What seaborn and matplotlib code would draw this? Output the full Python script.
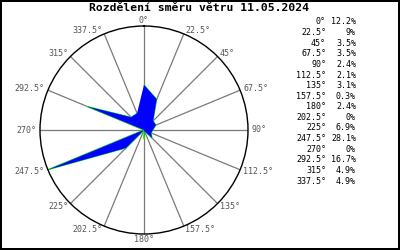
import numpy as np
import pandas as pd
import matplotlib
matplotlib.use("Agg")
import matplotlib.pyplot as plt
import seaborn as sns

directions = [0, 22.5, 45, 67.5, 90, 112.5, 135, 157.5, 180, 202.5, 225, 247.5, 270, 292.5, 315, 337.5]
dir_labels = ["0°", "22.5°", "45°", "67.5°", "90°", "112.5°", "135°", "157.5°",
              "180°", "202.5°", "225°", "247.5°", "270°", "292.5°", "315°", "337.5°"]
values = [12.2, 9, 3.5, 3.5, 2.4, 2.1, 3.1, 0.3, 2.4, 0, 6.9, 28.1, 0, 16.7, 4.9, 4.9]
title = "Rozdělení směru větru 11.05.2024"

sns.set_theme(style="white")
plt.rcParams['font.family'] = ['DejaVu Sans Mono', 'DejaVu Sans']

fig = plt.figure(figsize=(4, 2.5), dpi=100)
fig.patch.set_facecolor("white")
fig.patch.set_edgecolor("black")
fig.patch.set_linewidth(1.5)

ax = fig.add_axes([0.10, 0.064, 0.52, 0.832], projection="polar")
ax.set_theta_zero_location("N")
ax.set_theta_direction(-1)
rmax = max(values)
ax.set_ylim(0, rmax)
ax.set_yticks([])
ax.set_xticks(np.radians(directions))
ax.set_xticklabels([])
ax.xaxis.grid(True, color="#7a7a7a", linewidth=0.9)
ax.yaxis.grid(False)
ax.spines["polar"].set_color("black")
ax.spines["polar"].set_linewidth(1.0)
ax.set_facecolor("white")

df = pd.DataFrame({"theta": np.radians(directions + directions[:1]),
                   "value": values + values[:1]})
sns.lineplot(data=df, x="theta", y="value", sort=False, ax=ax,
             color="#00ff00", linewidth=0.7, zorder=2)
ax.fill(df["theta"], df["value"], color="#0000ff", linewidth=0, zorder=3)
ax.set_xlabel("")
ax.set_ylabel("")

for d, lab in zip(directions, dir_labels):
    t = np.radians(d)
    s, c = np.sin(t), np.cos(t)
    ha = "center" if abs(s) < 0.01 else ("left" if s > 0 else "right")
    if abs(s) < 0.01:
        va = "bottom" if c > 0 else "top"
        off = (0, c * 0.8)
    else:
        va = "center"
        off = (s * 2.5, c * 3.0)
    ax.annotate(lab, xy=(t, rmax), xytext=off, textcoords="offset points",
                ha=ha, va=va, fontsize=6, color="#555555", annotation_clip=False)

fig.text(199 / 400, 1 - 8 / 250, title, ha="center", va="center",
         fontsize=8.2, fontweight="bold", color="black")

y0 = 22
dy = 10.6
for i, (lab, v) in enumerate(zip(dir_labels, values)):
    y = 1 - (y0 + i * dy) / 250
    fig.text(326 / 400, y, lab, ha="right", va="center", fontsize=6, color="black")
    fig.text(356 / 400, y, f"{v:g}%", ha="right", va="center", fontsize=6, color="black")

fig.savefig("out.png", dpi=100, facecolor=fig.get_facecolor(), edgecolor=fig.get_edgecolor())
